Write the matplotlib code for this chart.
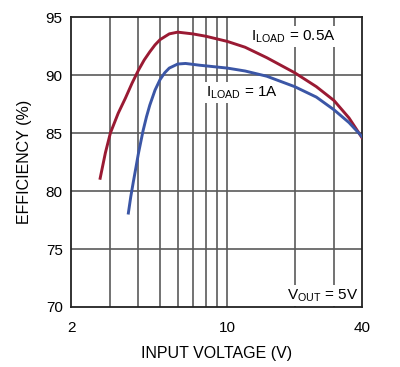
import matplotlib
matplotlib.use('Agg')
import matplotlib.pyplot as plt
from matplotlib.ticker import FixedLocator, NullFormatter

plt.rcParams['font.family'] = ['Liberation Sans Narrow', 'Liberation Sans', 'DejaVu Sans']
plt.rcParams['mathtext.fontset'] = 'custom'
plt.rcParams['mathtext.rm'] = 'Liberation Sans'

# I_LOAD = 0.5A
vin_05 = [2.70, 2.85, 3.0, 3.25, 3.5, 3.75, 4.0, 4.25, 4.5, 4.75, 5.0, 5.5, 6.0, 7.0, 8.0, 10,
          12, 15, 20, 25, 30, 35, 40]
eff_05 = [81.1, 83.3, 85.0, 86.7, 88.0, 89.3, 90.4, 91.3, 92.0, 92.6, 93.05, 93.55, 93.7, 93.55, 93.35, 92.9,
          92.4, 91.5, 90.2, 89.0, 87.8, 86.3, 84.6]

# I_LOAD = 1A
vin_1 = [3.61, 3.7, 3.8, 3.9, 4.0, 4.2, 4.35, 4.5, 4.75, 5.0, 5.25, 5.5, 6.0, 6.5, 7.5, 10,
         12, 15, 20, 25, 30, 35, 40]
eff_1 = [78.1, 79.5, 80.8, 82.0, 83.2, 85.2, 86.4, 87.4, 88.7, 89.6, 90.2, 90.6, 90.95, 91.0, 90.85, 90.6,
         90.35, 89.9, 89.0, 88.1, 87.0, 85.9, 84.7]

x_grid = [3, 4, 5, 6, 7, 8, 9, 10, 20, 30]
x_labels = [2, 10, 40]
y_ticks = [70, 75, 80, 85, 90, 95]

fig = plt.figure(figsize=(4, 3.67), dpi=100)
ax = fig.add_axes([0.1775, 0.1635, 0.7275, 0.790])

for xv in x_grid:
    ax.axvline(xv, color='#5a5a5a', lw=1.2, zorder=1)
for yv in y_ticks[1:-1]:
    ax.axhline(yv, color='#5a5a5a', lw=1.2, zorder=1)

ax.plot(vin_05, eff_05, color='#9a1a33', lw=2.1, zorder=3)
ax.plot(vin_1, eff_1, color='#3b56a6', lw=2.1, zorder=3)

ax.set_xscale('log')
ax.set_xlim(2, 40)
ax.set_ylim(70, 95)
ax.xaxis.set_major_locator(FixedLocator(x_labels))
ax.xaxis.set_minor_locator(FixedLocator([]))
ax.xaxis.set_minor_formatter(NullFormatter())
ax.set_xticks(x_labels)
ax.set_xticklabels([str(v) for v in x_labels])
ax.set_yticks(y_ticks)
ax.tick_params(length=0, labelsize=11, pad=6)
ax.tick_params(axis='x', pad=10)
for s in ax.spines.values():
    s.set_linewidth(1.3)
    s.set_color('#222222')

ax.set_xlabel('INPUT VOLTAGE (V)', fontsize=11.5, labelpad=8)
ax.set_ylabel('EFFICIENCY (%)', fontsize=11.5, labelpad=10)

box = dict(facecolor='white', edgecolor='none', pad=1.5)
ax.text(19.8, 93.3, r'I$_{\mathrm{LOAD}}$ = 0.5A', fontsize=11, ha='center', va='center', bbox=box, zorder=2)
ax.text(11.6, 88.5, r'I$_{\mathrm{LOAD}}$ = 1A', fontsize=11, ha='center', va='center', bbox=box, zorder=2)
ax.text(38.5, 71.0, r'V$_{\mathrm{OUT}}$ = 5V', fontsize=11, ha='right', va='center', bbox=box, zorder=2)

fig.savefig('out.png', dpi=100)
